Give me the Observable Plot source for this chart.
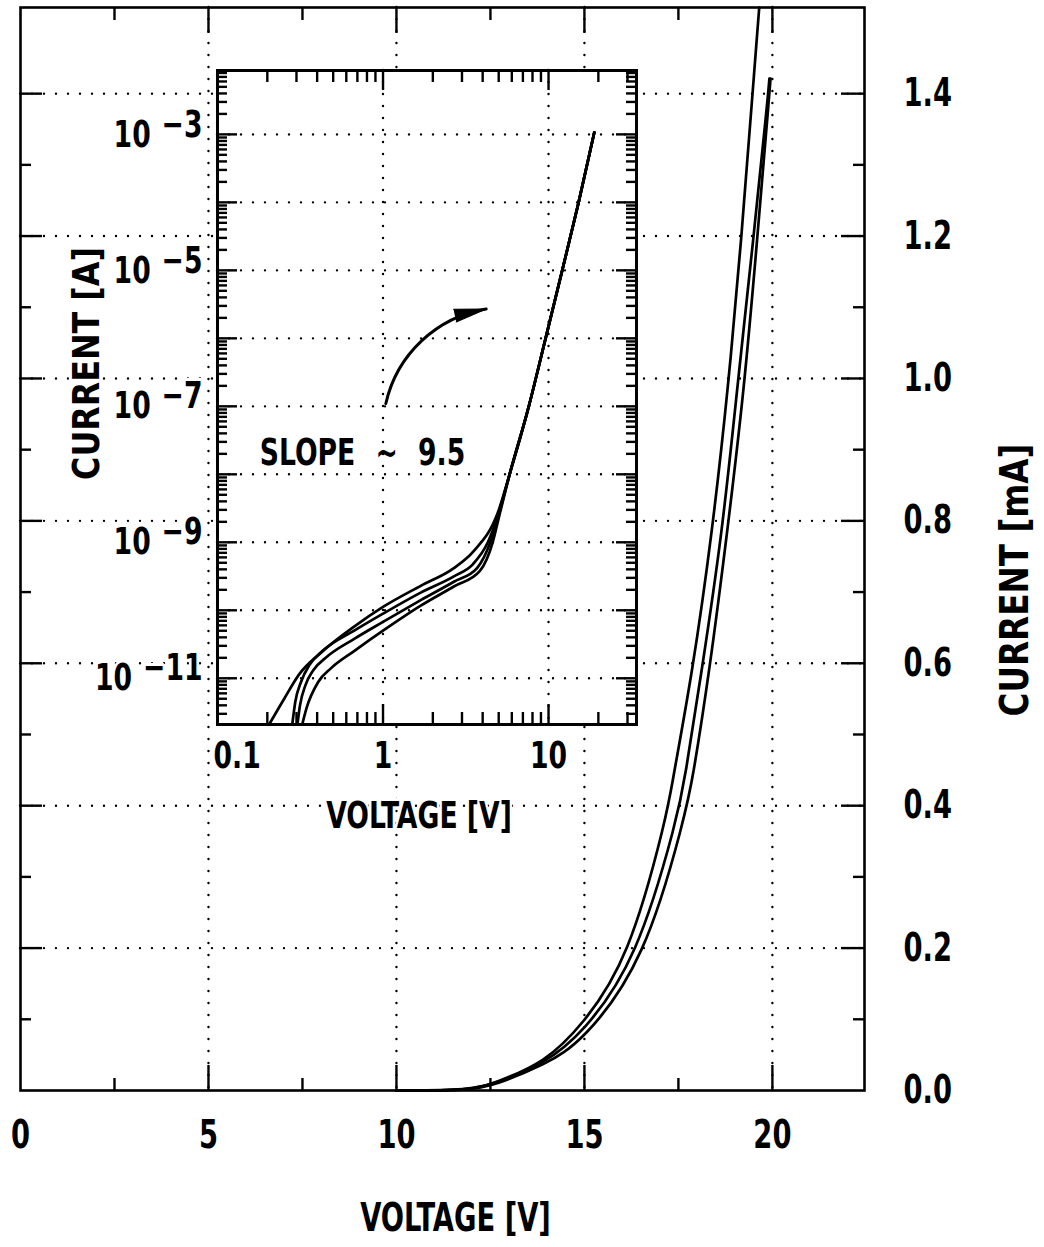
<!DOCTYPE html>
<html>
<head>
<meta charset="utf-8">
<script src="https://cdn.jsdelivr.net/npm/d3@7"></script>
<script src="https://cdn.jsdelivr.net/npm/@observablehq/plot@0.6"></script>
<style>
html, body { margin: 0; padding: 0; background: #fff; }
#wrap { position: relative; width: 1044px; height: 1247px; overflow: hidden; }
#wrap svg { position: absolute; left: 0; top: 0; }
</style>
</head>
<body>
<div id="wrap"></div>
<script>
// ---------------- main plot data (VOLTAGE [V], CURRENT [mA]) ----------------
const mainVoltsA = [10.0, 11.97, 12.63, 13.94, 14.95, 16.17, 17.21, 17.34, 17.87, 18.40, 18.83, 19.18, 19.47, 19.65];
const mainCurrA  = [0, 0, 0.011, 0.039, 0.092, 0.183, 0.389, 0.435, 0.586, 0.784, 0.990, 1.198, 1.400, 1.521];
const mainVoltsB = [10.0, 11.97, 12.63, 13.94, 14.95, 16.40, 17.50, 17.66, 18.11, 18.67, 19.07, 19.50, 19.89, 19.92];
const mainCurrB  = [0, 0, 0.010, 0.038, 0.080, 0.183, 0.389, 0.435, 0.586, 0.784, 0.990, 1.198, 1.400, 1.421];
const mainVoltsC = [10.0, 11.97, 12.63, 13.94, 14.95, 16.62, 17.69, 17.87, 18.32, 18.80, 19.26, 19.60, 19.92, 19.95];
const mainCurrC  = [0, 0, 0.008, 0.036, 0.068, 0.183, 0.389, 0.435, 0.586, 0.784, 0.990, 1.198, 1.400, 1.421];

const mainXTicks = [0, 5, 10, 15, 20];
const mainXTickLabels = ["0", "5", "10", "15", "20"];
const mainXMinor = [2.5, 7.5, 12.5, 17.5];
const mainYTicks = [0, 0.2, 0.4, 0.6, 0.8, 1.0, 1.2, 1.4];
const mainYTickLabels = ["0.0", "0.2", "0.4", "0.6", "0.8", "1.0", "1.2", "1.4"];
const mainYMinor = [0.1, 0.3, 0.5, 0.7, 0.9, 1.1, 1.3];

// ---------------- inset data (VOLTAGE [V], CURRENT [A], log-log) ----------------
const insetVoltsA = [0.205, 0.253, 0.312, 0.424, 0.669, 1.0, 1.69, 2.68, 3.53, 4.93];
const insetCurrA  = [2.09e-12, 5.01e-12, 1.15e-11, 2.40e-11, 5.75e-11, 1.12e-10, 2.29e-10, 4.17e-10, 7.41e-10, 2.69e-9];
const insetVoltsB = [0.283, 0.295, 0.32, 0.36, 0.43, 0.67, 1.0, 1.69, 2.68, 3.5, 4.3, 4.95];
const insetCurrB  = [2.09e-12, 4.47e-12, 8.91e-12, 1.58e-11, 2.51e-11, 5.01e-11, 8.91e-11, 1.82e-10, 3.16e-10, 4.79e-10, 1.0e-9, 2.51e-9];
const insetVoltsC = [0.304, 0.315, 0.34, 0.38, 0.46, 0.67, 1.0, 1.69, 2.68, 3.7, 4.45, 5.0];
const insetCurrC  = [2.09e-12, 3.98e-12, 7.94e-12, 1.32e-11, 2.09e-11, 3.80e-11, 6.76e-11, 1.41e-10, 2.63e-10, 4.17e-10, 1.0e-9, 2.51e-9];
const insetVoltsD = [0.325, 0.344, 0.407, 0.486, 0.669, 1.0, 1.69, 2.68, 3.85, 4.6, 5.05];
const insetCurrD  = [2.09e-12, 3.55e-12, 8.91e-12, 1.41e-11, 2.51e-11, 5.01e-11, 1.17e-10, 2.24e-10, 3.80e-10, 1.0e-9, 2.51e-9];
// common high-voltage branch (slope ~ 9.5)
const insetVoltsHigh = [5.82, 7.6, 9.6, 12.1, 15.2, 18.9];
const insetCurrHigh  = [1e-8, 1e-7, 1e-6, 1e-5, 1e-4, 1.07e-3];

const insetXTicks = [0.1, 1, 10];
const insetXTickLabels = ["0.1", "1", "10"];
const insetXMinor = [0.2, 0.3, 0.4, 0.5, 0.6, 0.7, 0.8, 0.9, 2, 3, 4, 5, 6, 7, 8, 9, 20, 30];
const insetYDecades = [1e-11, 1e-10, 1e-9, 1e-8, 1e-7, 1e-6, 1e-5, 1e-4, 1e-3];
const insetYLabelValues = [1e-3, 1e-5, 1e-7, 1e-9, 1e-11];
const insetYLabelExps = ["\u22123", "\u22125", "\u22127", "\u22129", "\u221211"];
const insetYMinorMult = [2, 3, 4, 5, 6, 7, 8, 9];
const insetYMinorDecades = [1e-12, 1e-11, 1e-10, 1e-9, 1e-8, 1e-7, 1e-6, 1e-5, 1e-4, 1e-3];

const slopeNote = [{V: 0.18, I: 2.1e-8, text: "SLOPE ~ 9.5"}];
const arrowNote = [{V1: 1.04, I1: 1.1e-7, V2: 4.2, I2: 2.7e-6}];

// ---------------- build tables ----------------
const rows = (name, xs, ys) => xs.map((v, i) => ({curve: name, V: v, I: ys[i]}));
const mainRows = [
  ...rows("A", mainVoltsA, mainCurrA),
  ...rows("B", mainVoltsB, mainCurrB),
  ...rows("C", mainVoltsC, mainCurrC)
];
const insetRows = [
  ...rows("a", [...insetVoltsA, ...insetVoltsHigh], [...insetCurrA, ...insetCurrHigh]),
  ...rows("b", [...insetVoltsB, ...insetVoltsHigh], [...insetCurrB, ...insetCurrHigh]),
  ...rows("c", [...insetVoltsC, ...insetVoltsHigh], [...insetCurrC, ...insetCurrHigh]),
  ...rows("d", [...insetVoltsD, ...insetVoltsHigh], [...insetCurrD, ...insetCurrHigh])
];
const xLabelRows = mainXTicks.map((v, i) => ({v, t: mainXTickLabels[i]}));
const yLabelRows = mainYTicks.map((v, i) => ({v, t: mainYTickLabels[i]}));
const insetXLabelRows = insetXTicks.map((v, i) => ({v, t: insetXTickLabels[i]}));
const insetYLabelRows = insetYLabelValues.map((v, i) => ({v, t: "10^" + insetYLabelExps[i]}));

const FONT = "'DejaVu Sans Condensed', 'DejaVu Sans', sans-serif";
const TXT = {fontFamily: FONT, fontWeight: "bold", fill: "black", lineAnchor: "middle"};
const HALO = {stroke: "white", strokeWidth: 6};
const W = 1044, H = 1247;

// main frame geometry
const mL = 20, mR = 180, mT = 7, mB = 157;
const mFW = W - mL - mR, mFH = H - mT - mB;
// inset frame geometry
const iL = 217, iR = 408, iT = 70, iB = 523;
const iFW = W - iL - iR, iFH = H - iT - iB;

const dotted = {stroke: "black", strokeWidth: 2.4, strokeDasharray: "0,12", strokeLinecap: "round"};
const tickStyle = {stroke: "black", strokeWidth: 2.4};

const main = Plot.plot({
  width: W, height: H,
  marginLeft: mL, marginRight: mR, marginTop: mT, marginBottom: mB,
  x: {domain: [0, 22.45], axis: null},
  y: {domain: [0, 1.521], axis: null},
  style: {background: "transparent", overflow: "visible", fontFamily: FONT},
  marks: [
    Plot.ruleY(mainYTicks.slice(1), {y: d => d, ...dotted}),
    Plot.ruleX(mainXTicks.slice(1), {x: d => d, ...dotted}),
    Plot.line(mainRows, {x: "V", y: "I", z: "curve", curve: "basis", stroke: "black", strokeWidth: 2.7}),
    // ticks: bottom / top
    Plot.ruleX(mainXTicks.slice(1), {x: d => d, insetTop: mFH - 25, ...tickStyle}),
    Plot.ruleX(mainXTicks.slice(1), {x: d => d, insetBottom: mFH - 26, ...tickStyle}),
    Plot.ruleX(mainXMinor, {x: d => d, insetTop: mFH - 12, ...tickStyle}),
    Plot.ruleX(mainXMinor, {x: d => d, insetBottom: mFH - 13, ...tickStyle}),
    // ticks: left / right
    Plot.ruleY(mainYTicks.slice(1), {y: d => d, insetRight: mFW - 22, ...tickStyle}),
    Plot.ruleY(mainYTicks.slice(1), {y: d => d, insetLeft: mFW - 23, ...tickStyle}),
    Plot.ruleY(mainYMinor, {y: d => d, insetRight: mFW - 11, ...tickStyle}),
    Plot.ruleY(mainYMinor, {y: d => d, insetLeft: mFW - 11, ...tickStyle}),
    Plot.frame({stroke: "black", strokeWidth: 2.6}),
    // tick labels
    Plot.text(xLabelRows, {x: "v", text: "t", frameAnchor: "bottom", dy: 45, fontSize: 39, ...TXT}),
    Plot.text(yLabelRows, {y: "v", text: "t", frameAnchor: "right", textAnchor: "start", dx: 39, fontSize: 39, ...TXT}),
    // axis titles
    Plot.text(["VOLTAGE [V]"], {frameAnchor: "bottom", textAnchor: "middle", dx: 13, dy: 128, fontSize: 39, ...TXT}),
    Plot.text(["CURRENT [mA]"], {frameAnchor: "right", textAnchor: "middle", dx: 151, dy: 31, rotate: -90, fontSize: 39, ...TXT})
  ]
});

const minorY = [];
insetYMinorDecades.forEach(d => insetYMinorMult.forEach(m => minorY.push(d * m)));
const yDom = [2.09e-12, 8.7e-3];
const insetYMinor = minorY.filter(v => v > yDom[0] && v < yDom[1]);

const inset = Plot.plot({
  width: W, height: H,
  marginLeft: iL, marginRight: iR, marginTop: iT, marginBottom: iB,
  x: {type: "log", domain: [0.1, 34], axis: null},
  y: {type: "log", domain: yDom, axis: null},
  style: {background: "transparent", overflow: "visible", fontFamily: FONT},
  marks: [
    Plot.frame({fill: "white", stroke: null}),
    Plot.ruleY(insetYDecades, {y: d => d, ...dotted}),
    Plot.ruleX(insetXTicks.slice(1), {x: d => d, ...dotted}),
    Plot.line(insetRows, {x: "V", y: "I", z: "curve", curve: "monotone-x", stroke: "black", strokeWidth: 2.7}),
    // x ticks bottom / top
    Plot.ruleX(insetXTicks.slice(1), {x: d => d, insetTop: iFH - 20, ...tickStyle}),
    Plot.ruleX(insetXTicks.slice(1), {x: d => d, insetBottom: iFH - 20, ...tickStyle}),
    Plot.ruleX(insetXMinor, {x: d => d, insetTop: iFH - 12, ...tickStyle}),
    Plot.ruleX(insetXMinor, {x: d => d, insetBottom: iFH - 12, ...tickStyle}),
    // y ticks left / right
    Plot.ruleY(insetYDecades, {y: d => d, insetRight: iFW - 20, ...tickStyle}),
    Plot.ruleY(insetYDecades, {y: d => d, insetLeft: iFW - 20, ...tickStyle}),
    Plot.ruleY(insetYMinor, {y: d => d, insetRight: iFW - 10, ...tickStyle}),
    Plot.ruleY(insetYMinor, {y: d => d, insetLeft: iFW - 10, ...tickStyle}),
    Plot.frame({stroke: "black", strokeWidth: 3}),
    // annotation
    Plot.text(slopeNote, {x: "V", y: "I", text: "text", textAnchor: "start", fontSize: 38, ...TXT}),
    Plot.arrow(arrowNote, {x1: "V1", y1: "I1", x2: "V2", y2: "I2", bend: 34, headLength: 0, stroke: "black", strokeWidth: 3}),
    Plot.vector(arrowNote, {x: "V2", y: "I2", anchor: "end", shape: "spike", length: 32, rotate: 78, r: 6.5, fill: "black", stroke: "black", strokeWidth: 1}),
    // tick labels
    Plot.text(insetXLabelRows.slice(0, 1), {x: "v", text: "t", frameAnchor: "bottom", textAnchor: "start", dx: -4, dy: 31, fontSize: 38, ...TXT, ...HALO}),
    Plot.text(insetXLabelRows.slice(1), {x: "v", text: "t", frameAnchor: "bottom", textAnchor: "middle", dy: 31, fontSize: 38, ...TXT, ...HALO}),
    Plot.text(insetYLabelRows, {y: "v", text: "t", frameAnchor: "left", textAnchor: "end", dx: -15, fontSize: 38, ...TXT, ...HALO}),
    // axis titles
    Plot.text(["VOLTAGE [V]"], {frameAnchor: "bottom", textAnchor: "middle", dx: -8, dy: 91, fontSize: 38, ...TXT, ...HALO}),
    Plot.text(["CURRENT [A]"], {frameAnchor: "left", textAnchor: "middle", dx: -131, dy: -34, rotate: -90, fontSize: 38, ...TXT, ...HALO})
  ]
});

// superscript exponents in the inset y labels
d3.select(inset).selectAll("text").each(function () {
  const s = this.textContent;
  if (s.startsWith("10^")) {
    const exp = s.slice(3);
    this.textContent = "10";
    d3.select(this).append("tspan").attr("dx", 14).attr("dy", -10).text(exp);
  }
  if (s.startsWith("SLOPE")) this.style.wordSpacing = "14px";
});

// condense the lettering (the original uses a narrow typeface)
[main, inset].forEach(svg => {
  d3.select(svg).selectAll("text").each(function () {
    const t = this.getAttribute("transform") || "";
    const k = t.includes("rotate") ? 0.93 : 0.78;
    if (this.hasAttribute("x")) this.setAttribute("x", +this.getAttribute("x") / k);
    this.setAttribute("transform", (t + ` scale(${k},1)`).trim());
  });
});

const wrap = document.getElementById("wrap");
wrap.appendChild(main);
wrap.appendChild(inset);
</script>
</body>
</html>
